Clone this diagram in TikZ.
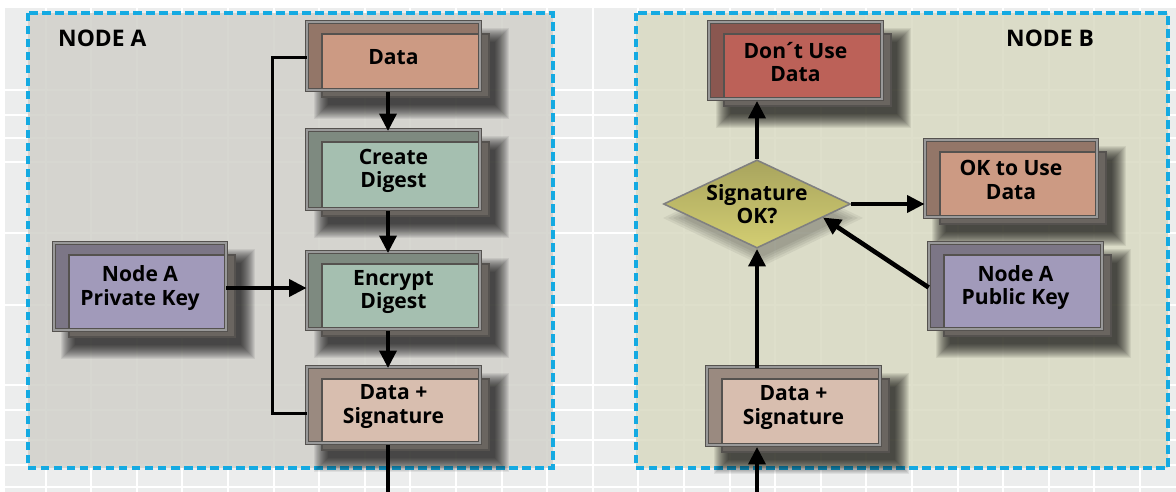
\documentclass[tikz,border=0pt]{standalone}
\usepackage{fontspec}
\setmainfont{Open Sans}
\usepackage{tikz}
\usetikzlibrary{arrows.meta, calc, shapes.geometric, positioning}

\definecolor{paper}{RGB}{236,237,237}
\definecolor{zoneA}{RGB}{209,208,202}
\definecolor{zoneB}{RGB}{217,218,194}
\definecolor{zoneline}{RGB}{20,170,226}
\definecolor{framegrey}{RGB}{78,74,70}
\definecolor{frontgrey}{RGB}{106,101,96}
\definecolor{edgegrey}{RGB}{85,82,79}
\definecolor{salmon}{RGB}{204,154,131}
\definecolor{sage}{RGB}{165,191,176}
\definecolor{lavender}{RGB}{161,154,186}
\definecolor{blush}{RGB}{216,190,175}
\definecolor{brick}{RGB}{188,97,88}
\definecolor{oliveA}{RGB}{168,164,94}
\definecolor{oliveB}{RGB}{211,206,114}

\tikzset{
  gridline/.style={white, line width=1.1pt},
  zone/.style={draw=zoneline, line width=2pt, dash pattern=on 4.8pt off 2.6pt, fill opacity=0.85},
  zonetitle/.style={font=\fontsize{13}{15}\selectfont\bfseries, anchor=base west},
  boxshade/.style={fill=black, fill opacity=0.065},
  backframe/.style={draw=edgegrey, double=gray!80, double distance=0.7pt, line width=1pt},
  frontframe/.style={fill=frontgrey, draw=edgegrey, line width=1.2pt},
  boxlabel/.style={inner sep=0pt, align=center, font=\fontsize{12}{13.5}\selectfont\bfseries},
  decision/.style={diamond, draw=black!50, line width=0.9pt, top color=oliveA, bottom color=oliveB,
    minimum width=3.74cm, minimum height=1.76cm, aspect=2.1, inner sep=0pt, align=center,
    font=\fontsize{12}{13.5}\selectfont\bfseries},
  flow/.style={line width=2.6pt, -{Triangle[length=10pt,width=9.5pt]}},
  link/.style={line width=1.6pt},
}

\begin{document}
\begin{tikzpicture}[x=0.02cm, y=-0.02cm]
  \useasboundingbox (0,0) rectangle (1176,492);

  % --- paper with grid ---
  \fill[white] (0,0) rectangle (1176,492);
  \fill[paper] (5,8) rectangle (1176,492);
  \foreach \gx in {1,...,25}{
    \draw[gridline] (45.6*\gx,8) -- (45.6*\gx,492);
  }
  \foreach \gy in {90,115,138,162,233,305,385,410,440,465,487}{
    \draw[gridline] (5,\gy) -- (1176,\gy);
  }

  % --- the two zones ---
  \filldraw[zone, fill=zoneA] (28,13) rectangle (553,468);
  \filldraw[zone, fill=zoneB] (636,13) rectangle (1168,468);
  \node[zonetitle] (titleA) at (52,47) {NODE A};
  \node[zonetitle] (titleB) at (1000,47) {NODE B};

  % --- boxes: shadow, back frame, front frame, colour, label ---
  \foreach \nm/\xa/\ya/\xb/\yb/\col/\txt in {
      data/307/22/480/90/salmon/{Data},
      digest/307/130/480/209/sage/{Create\\Digest},
      encrypt/307/252/480/329/sage/{Encrypt\\Digest},
      signA/307/367/480/443/blush/{Data +\\Signature},
      privkey/54/243/226/330/lavender/{Node A\\Private Key},
      dontuse/709/22/882/99/brick/{Don\kern-.12em´\kern-.12em t Use\\Data},
      okuse/925/140/1097/217/salmon/{OK to Use\\Data},
      pubkey/929/243/1102/329/lavender/{Node A\\Public Key},
      signB/707/367/880/445/blush/{Data +\\Signature}}{
    \foreach \s in {0,...,14}{
      \fill[boxshade] (\xa+7+\s,\ya+6+\s) rectangle (\xb+29-\s,\yb+29-\s);
    }
    \fill[\col!55!framegrey] (\xa,\ya) rectangle (\xb,\yb);
    \filldraw[frontframe] (\xa+15,\ya+12) rectangle (\xb+9,\yb+7);
    \fill[\col] (\xa+16,\ya+13) rectangle (\xb-2,\yb-2);
    \draw[backframe] (\xa,\ya) rectangle (\xb,\yb);
    \pgfmathsetmacro\bw{(\xb-\xa)*0.02}
    \pgfmathsetmacro\bh{(\yb-\ya)*0.02}
    \node[boxlabel, minimum width=\bw cm, minimum height=\bh cm] (\nm)
      at ({(\xa+\xb)/2},{(\ya+\yb)/2+1.5}) {\txt};
  }

  % decision diamond with a soft shadow
  \foreach \s in {0,...,4}{
    \fill[boxshade, fill opacity=0.06] (763,218) ++(-100+5*\s,0) -- ++(100-5*\s,-48+2.4*\s)
      -- ++(100-5*\s,48-2.4*\s) -- ++(-100+5*\s,48-2.4*\s) -- cycle;
  }
  \node[decision] (check) at (757,204) {Signature\\OK?};

  % --- connectors, node A ---
  \coordinate (exitA) at (388,492);
  \draw[flow] (data.south -| exitA) -- (digest.north -| exitA);
  \draw[flow] (digest.south -| exitA) -- (encrypt.north -| exitA);
  \draw[flow] (encrypt.south -| exitA) -- (signA.north -| exitA);
  \draw[flow] (privkey.east) -- (privkey.east -| encrypt.west);
  \draw[link] (data.west) -- ++(-34,0) |- ([yshift=-4pt]signA.west);
  \draw[line width=2.4pt] (signA.south -| exitA) -- (exitA);

  % --- connectors, node B ---
  \coordinate (exitB) at (757,492);
  \draw[flow] (exitB) -- (exitB |- signB.south);
  \draw[flow] (signB.north -| check) -- (check.south);
  \draw[flow] (check.north) -- (check.north |- dontuse.south);
  \draw[flow] (check.east) -- (check.east -| okuse.west);
  \draw[flow] (pubkey.west) -- ($(check.east)!0.3!(check.south)$);
\end{tikzpicture}
\end{document}
